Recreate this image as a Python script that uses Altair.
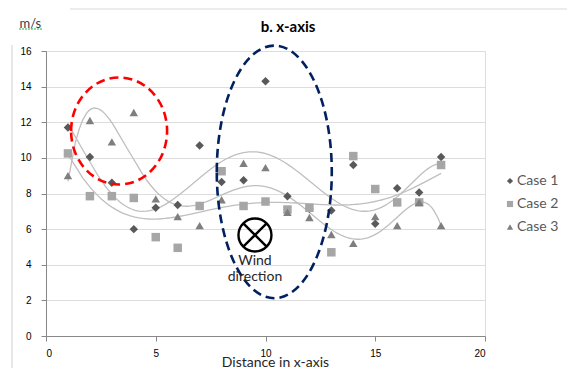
import altair as alt
import pandas as pd

# ---- data ----
distance = list(range(1, 19))
case1 = [11.7, 10.05, 8.6, 6.0, 7.2, 7.35, 10.7, 8.65, 8.75, 14.3, 7.85, 7.15, 7.05, 9.6, 6.3, 8.3, 8.05, 10.05]
case2 = [10.25, 7.85, 7.85, 7.75, 5.55, 4.95, 7.3, 9.25, 7.3, 7.55, 7.1, 7.2, 4.7, 10.1, 8.25, 7.5, 7.5, 9.6]
case3 = [9.0, 12.1, 10.9, 12.55, 7.7, 6.7, 6.2, 7.65, 9.7, 9.45, 6.95, 6.65, 5.7, 5.2, 6.7, 6.2, 7.5, 6.2]
series = ["Case 1", "Case 2", "Case 3"]
x_ticks = [0, 5, 10, 15, 20]
y_ticks = [0, 2, 4, 6, 8, 10, 12, 14, 16]

rows = []
for name, vals in zip(series, [case1, case2, case3]):
    for d, v in zip(distance, vals):
        rows.append({"distance": d, "speed": v, "case": name})
df = pd.DataFrame(rows)

FONT = "Lato"
GRID = "#d9d9d9"
LABEL = "#595959"

xs = alt.Scale(domain=[0, 20], nice=False, zero=False)
ys = alt.Scale(domain=[0, 16], nice=False)

x_axis = alt.Axis(values=x_ticks, grid=False, title="Distance in x-axis",
                  titleX=229, titleY=30, titleBaseline="alphabetic", titleAlign="center",
                  titleAnchor="start",
                  titleFontWeight="normal", titleFontSize=14, titleColor="#262626",
                  titleFont=FONT, labelPadding=7, labelOverlap=False, tickCount=5)
y_axis = alt.Axis(values=y_ticks, grid=True, title="m/s", titleAngle=0,
                  titleX=-27, titleY=-24, titleAlign="left", titleBaseline="alphabetic",
                  titleAnchor="start",
                  titleFontWeight="normal", titleFontSize=13, titleColor="#3a3a4a",
                  titleFont=FONT, labelPadding=10, labelOverlap=False, tickCount=9)


def X(field=None, datum=None):
    if datum is not None:
        return alt.XDatum(datum, type="quantitative", scale=xs, axis=x_axis)
    return alt.X(field, type="quantitative", scale=xs, axis=x_axis)


def Y(field=None, datum=None):
    if datum is not None:
        return alt.YDatum(datum, type="quantitative", scale=ys, axis=y_axis)
    return alt.Y(field, type="quantitative", scale=ys, axis=y_axis)


legend = alt.Legend(title=None, orient="none", legendX=457, legendY=123,
                    labelFontSize=14, labelColor=LABEL, labelFont=FONT,
                    symbolSize=38, rowPadding=9, labelOffset=0)

points = alt.Chart(df).mark_point(filled=True, size=72, opacity=1).encode(
    x=X("distance"),
    y=Y("speed"),
    color=alt.Color("case:N", scale=alt.Scale(domain=series, range=["#595959", "#a6a6a6", "#7f7f7f"]),
                    legend=legend),
    shape=alt.Shape("case:N", scale=alt.Scale(domain=series, range=["diamond", "square", "triangle-up"]),
                    legend=legend),
)

trend = alt.Chart(df).transform_regression(
    "distance", "speed", groupby=["case"], method="poly", order=6
).mark_line(color="#bfbfbf", strokeWidth=1.3).encode(
    x=X("distance"),
    y=Y("speed"),
    detail="case:N",
)

one = pd.DataFrame({"k": [0]})

a_red = 48 / 53.5
red_path = f"M{-a_red},0A{a_red},1,0,1,1,{a_red},0A{a_red},1,0,1,1,{-a_red},0Z"
red_ellipse = alt.Chart(one).mark_point(
    shape=red_path, filled=False, stroke="#ff0000", strokeWidth=2.6,
    strokeDash=[9, 5], size=107 ** 2, opacity=1
).encode(x=X(datum=3.33), y=Y(datum=11.51))

a_nv = 57.5 / 126.3
nv_path = f"M{-a_nv},0A{a_nv},1,0,1,1,{a_nv},0A{a_nv},1,0,1,1,{-a_nv},0Z"
navy_ellipse = alt.Chart(one).mark_point(
    shape=nv_path, filled=False, stroke="#002060", strokeWidth=2.6,
    strokeDash=[9, 5], size=252.6 ** 2, opacity=1
).encode(x=X(datum=10.4), y=Y(datum=9.21))

wind_path = ("M-1,0A1,1,0,1,1,1,0A1,1,0,1,1,-1,0Z"
             "M-0.707,-0.707L0.707,0.707M-0.707,0.707L0.707,-0.707")
wind_symbol = alt.Chart(one).mark_point(
    shape=wind_path, filled=False, stroke="#000000", strokeWidth=2.4,
    size=33 ** 2, opacity=1
).encode(x=X(datum=9.52), y=Y(datum=5.67))

wind_txt1 = alt.Chart(one).mark_text(
    text="Wind", font=FONT, fontSize=14, color="#262626", baseline="alphabetic"
).encode(x=X(datum=9.52), y=Y(datum=3.99))
wind_txt2 = alt.Chart(one).mark_text(
    text="direction", font=FONT, fontSize=14, color="#262626", baseline="alphabetic"
).encode(x=X(datum=9.52), y=Y(datum=3.09))

title_txt = alt.Chart(one).mark_text(
    text="b. x-axis", font=FONT, fontSize=15, fontWeight="bold", color="#000000",
    baseline="alphabetic", align="center"
).encode(x=alt.value(242), y=alt.value(-19))

frame_top = alt.Chart(one).mark_rule(color=GRID, strokeWidth=1.2).encode(
    x=alt.value(24), x2=alt.value(521), y=alt.value(-42))
frame_left = alt.Chart(one).mark_rule(color=GRID, strokeWidth=1.2).encode(
    x=alt.value(-34), y=alt.value(-6), y2=alt.value(317))
squiggle = alt.Chart(one).mark_rule(color="#22b14c", strokeWidth=1.2, strokeDash=[2, 1]).encode(
    x=alt.value(-27), x2=alt.value(-4), y=alt.value(-22))

chart = alt.layer(
    frame_top, frame_left, squiggle, trend, points, red_ellipse, navy_ellipse,
    wind_symbol, wind_txt1, wind_txt2, title_txt
).properties(
    width=439, height=285,
    autosize=alt.AutoSizeParams(type="none"),
    padding={"left": 46, "top": 51, "right": 82, "bottom": 32},
).configure_view(stroke=None).configure_axis(
    gridColor=GRID, domainColor=GRID, tickColor=GRID, tickSize=5,
    labelColor=LABEL, labelFont=FONT, labelFontSize=14,
).configure(background="white")

chart.save("out.html", embed_options={"renderer": "svg", "actions": False})
